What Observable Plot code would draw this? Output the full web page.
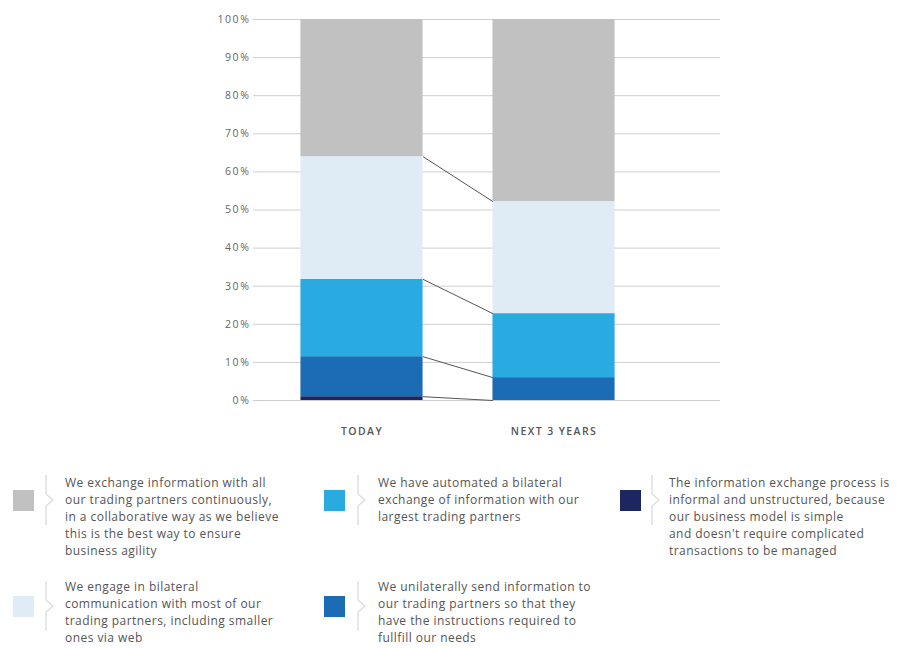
<!DOCTYPE html>
<html>
<head>
<meta charset="utf-8">
<script src="https://cdn.jsdelivr.net/npm/d3@7"></script>
<script src="https://cdn.jsdelivr.net/npm/@observablehq/plot@0.6"></script>
<style>
  html, body { margin: 0; padding: 0; background: #fff; }
  #wrap { position: relative; width: 905px; height: 648px; overflow: hidden; font-family: "Open Sans", "Noto Sans", sans-serif; }
  .sw { position: absolute; width: 21px; height: 21px; }
  .br { position: absolute; }
  .tx { position: absolute; font-size: 12px; line-height: 17px; letter-spacing: 0.45px; color: #555; white-space: nowrap; }
  svg [aria-label="x-axis tick label"] { letter-spacing: 1.4px; }
  svg [aria-label="y-axis tick label"] { letter-spacing: 1.6px; }
</style>
</head>
<body>
<div id="wrap"></div>
<script>
// ---- data ----
const categories = ["TODAY", "NEXT 3 YEARS"];
const yTicks = [0, 10, 20, 30, 40, 50, 60, 70, 80, 90, 100];
// stacked from bottom to top
const seriesKeys = ["informal", "unilateral", "automated", "bilateral", "collaborative"];
const informal = [1, 0];
const unilateral = [10.5, 6];
const automated = [20.3, 16.8];
const bilateral = [32.2, 29.4];
const collaborative = [36, 47.8];
const seriesColors = ["#1c2660", "#1b6cb5", "#29abe2", "#dfecf6", "#c1c1c1"];
const legendLabels = {
  collaborative: ["We exchange information with all", "our trading partners continuously,", "in a collaborative way as we believe", "this is the best way to ensure", "business agility"],
  bilateral: ["We engage in bilateral", "communication with most of our", "trading partners, including smaller", "ones via web"],
  automated: ["We have automated a bilateral", "exchange of information with our", "largest trading partners"],
  unilateral: ["We unilaterally send information to", "our trading partners so that they", "have the instructions required to", "fullfill our needs"],
  informal: ["The information exchange process is", "informal and unstructured, because", "our business model is simple", "and doesn't require complicated", "transactions to be managed"]
};

// ---- build stacked table ----
const valuesByKey = {informal, unilateral, automated, bilateral, collaborative};
const rects = [];
const tops = {};
categories.forEach((c, i) => {
  let acc = 0;
  seriesKeys.forEach((k, j) => {
    const v = valuesByKey[k][i];
    rects.push({cat: i, key: k, color: seriesColors[j], y1: acc, y2: acc + v});
    acc += v;
    (tops[k] = tops[k] || [])[i] = acc;
  });
});
const links = seriesKeys.slice(0, -1).map(k => ({key: k, y1: tops[k][0], y2: tops[k][1]}));

const hw = 0.318; // half bar width in category units
const chart = Plot.plot({
  width: 905,
  height: 450,
  marginLeft: 253,
  marginRight: 185,
  marginTop: 19,
  marginBottom: 50,
  style: {fontFamily: "'Open Sans', 'Noto Sans', sans-serif", background: "#fff"},
  x: {type: "linear", domain: [-0.565, 1.867]},
  y: {domain: [0, 100]},
  marks: [
    Plot.ruleY(yTicks, {stroke: "#cfcfcf", strokeWidth: 1}),
    Plot.rect(rects, {x1: d => d.cat - hw, x2: d => d.cat + hw, y1: "y1", y2: "y2", fill: "color"}),
    Plot.link(links, {x1: 0 + hw, x2: 1 - hw, y1: "y1", y2: "y2", stroke: "#555", strokeWidth: 1}),
    Plot.axisY({ticks: yTicks, tickFormat: d => d + "%", tickSize: 0, tickPadding: 3, fontSize: 10.5, color: "#666", label: null}),
    Plot.axisX({ticks: [0, 1], tickFormat: i => categories[i], tickSize: 0, tickPadding: 27, fontSize: 10.5, fontWeight: 600, color: "#555", label: null})
  ]
});
const wrap = document.getElementById("wrap");
chart.style.position = "absolute";
chart.style.left = "0px";
chart.style.top = "0px";
wrap.appendChild(chart);

// ---- legend ----
const legendLayout = [
  {key: "collaborative", col: 0, row: 0},
  {key: "automated", col: 1, row: 0},
  {key: "informal", col: 2, row: 0},
  {key: "bilateral", col: 0, row: 1},
  {key: "unilateral", col: 1, row: 1}
];
const colX = [{sw: 13, br: 44, tx: 65}, {sw: 324, br: 356, tx: 378}, {sw: 620, br: 650, tx: 669}];
const rowY = [{sw: 490, br: 474, tx: 474}, {sw: 596, br: 580, tx: 578}];
legendLayout.forEach(({key, col, row}) => {
  const color = seriesColors[seriesKeys.indexOf(key)];
  const sw = document.createElement("div");
  sw.className = "sw";
  sw.style.left = colX[col].sw + "px";
  sw.style.top = rowY[row].sw + "px";
  sw.style.background = color;
  wrap.appendChild(sw);
  const br = document.createElementNS("http://www.w3.org/2000/svg", "svg");
  br.setAttribute("class", "br");
  br.setAttribute("width", 14);
  br.setAttribute("height", 52);
  br.style.left = colX[col].br + "px";
  br.style.top = rowY[row].br + "px";
  br.innerHTML = '<path d="M2,1 L2,20 L9,26 L2,32 L2,51" fill="none" stroke="#dcdcdc" stroke-width="1.3"/>';
  wrap.appendChild(br);
  const tx = document.createElement("div");
  tx.className = "tx";
  tx.style.left = colX[col].tx + "px";
  tx.style.top = rowY[row].tx + "px";
  tx.innerHTML = legendLabels[key].join("<br>");
  wrap.appendChild(tx);
});
</script>
</body>
</html>
